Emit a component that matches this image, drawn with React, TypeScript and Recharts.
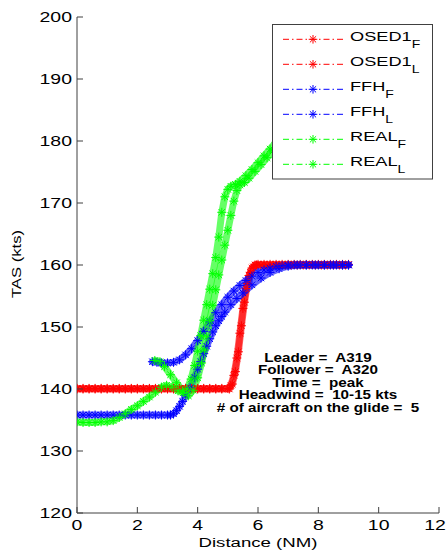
import React from "react";
import { LineChart, Line, XAxis, YAxis } from "recharts";

const X_TICKS = [0, 2, 4, 6, 8, 10, 12];
const Y_TICKS = [120, 130, 140, 150, 160, 170, 180, 190, 200];

const osedF_x = [0, 0.2, 0.4, 0.6, 0.8, 1, 1.2, 1.4, 1.6, 1.8, 2, 2.2, 2.4, 2.6, 2.8, 3, 3.2, 3.4, 3.6, 3.8, 4, 4.2, 4.4, 4.6, 4.8, 5, 5.1, 5.2, 5.3, 5.4, 5.5, 5.6, 5.7, 5.8, 5.9, 6, 6.2, 6.4, 6.6, 6.8, 7, 7.2, 7.4, 7.6, 7.8, 8, 8.2, 8.4, 8.6, 8.8, 9];
const osedF_y = [140.1, 140.1, 140.1, 140.1, 140.1, 140.1, 140.1, 140.1, 140.1, 140.1, 140.1, 140.1, 140.1, 140.1, 140.1, 140.1, 140.1, 140.1, 140.1, 140.1, 140.1, 140.1, 140.1, 140.1, 140.1, 140.1, 140.6, 142.2, 145.0, 149.0, 153.0, 156.2, 158.3, 159.5, 160.0, 160.1, 160.1, 160.1, 160.1, 160.1, 160.1, 160.1, 160.1, 160.1, 160.1, 160.1, 160.1, 160.1, 160.1, 160.1, 160.1];

const osedL_x = [0, 0.2, 0.4, 0.6, 0.8, 1, 1.2, 1.4, 1.6, 1.8, 2, 2.2, 2.4, 2.6, 2.8, 3, 3.2, 3.4, 3.6, 3.8, 4, 4.2, 4.4, 4.6, 4.8, 5.05, 5.15, 5.25, 5.35, 5.45, 5.55, 5.65, 5.75, 5.85, 5.95, 6.1, 6.3, 6.5, 6.7, 6.9, 7.1, 7.3, 7.5, 7.7, 7.9, 8.1, 8.3, 8.5, 8.7, 8.9];
const osedL_y = [140.0, 140.0, 140.0, 140.0, 140.0, 140.0, 140.0, 140.0, 140.0, 140.0, 140.0, 140.0, 140.0, 140.0, 140.0, 140.0, 140.0, 140.0, 140.0, 140.0, 140.0, 140.0, 140.0, 140.0, 140.0, 140.0, 140.8, 142.8, 146.0, 150.2, 154.0, 157.0, 158.8, 159.7, 160.0, 160.0, 160.0, 160.0, 160.0, 160.0, 160.0, 160.0, 160.0, 160.0, 160.0, 160.0, 160.0, 160.0, 160.0, 160.0];

const ffhF_x = [2.5, 2.65, 2.8, 3.0, 3.2, 3.4, 3.6, 3.8, 4.0, 4.2, 4.4, 4.6, 4.8, 5.0, 5.2, 5.4, 5.6, 5.8, 6.0, 6.2, 6.4, 6.6, 6.8, 7.0, 7.2, 7.4, 7.6, 7.8, 8.0, 8.2, 8.4, 8.6, 8.8, 9.0];
const ffhF_y = [144.4, 144.3, 144.2, 144.2, 144.3, 144.7, 145.5, 146.5, 147.8, 149.3, 150.8, 152.3, 153.6, 154.8, 155.8, 156.7, 157.5, 158.2, 158.8, 159.2, 159.5, 159.8, 159.9, 160.0, 160.0, 160.0, 160.0, 160.0, 160.0, 160.0, 160.0, 160.0, 160.0, 160.0];

const ffhL_x = [0, 0.2, 0.4, 0.6, 0.8, 1, 1.2, 1.4, 1.6, 1.8, 2, 2.2, 2.4, 2.6, 2.8, 3, 3.1, 3.2, 3.3, 3.4, 3.5, 3.6, 3.75, 3.9, 4.0, 4.1, 4.2, 4.3, 4.4, 4.5, 4.6, 4.7, 4.8, 4.9, 5.1, 5.3, 5.5, 5.8, 6.1, 6.4, 6.7, 7.0, 7.3, 7.6, 7.9, 8.2, 8.5, 8.8, 9.0];
const ffhL_y = [135.8, 135.8, 135.8, 135.8, 135.8, 135.8, 135.8, 135.8, 135.8, 135.8, 135.8, 135.8, 135.8, 135.8, 135.8, 135.8, 135.8, 136.0, 136.5, 137.2, 138.0, 138.9, 140.2, 141.9, 143.2, 144.4, 145.7, 146.9, 148.1, 149.2, 150.2, 151.0, 151.7, 152.4, 153.6, 154.6, 155.5, 156.8, 157.9, 158.8, 159.4, 159.8, 160.0, 160.0, 160.0, 160.0, 160.0, 160.0, 160.0];

const realF_x = [2.58, 2.75, 2.9, 3.1, 3.3, 3.5, 3.69, 3.85, 4.0, 4.13, 4.22, 4.3, 4.4, 4.5, 4.6, 4.7, 4.8, 4.9, 5.0, 5.1, 5.2, 5.3, 5.4, 5.55, 5.7, 5.9, 6.1, 6.3, 6.5, 6.65];
const realF_y = [144.6, 144.4, 143.6, 142.3, 141.0, 139.7, 138.9, 139.8, 141.8, 144.2, 146.3, 148.4, 151.0, 153.5, 156.0, 158.4, 160.8, 163.2, 165.6, 168.0, 170.3, 172.0, 172.9, 173.3, 174.0, 175.1, 176.2, 177.3, 178.4, 179.2];

const realL_x = [0, 0.2, 0.4, 0.6, 0.8, 1.0, 1.2, 1.4, 1.6, 1.8, 2.0, 2.2, 2.4, 2.6, 2.8, 2.97, 3.15, 3.35, 3.52, 3.65, 3.78, 3.9, 4.0, 4.1, 4.2, 4.3, 4.4, 4.5, 4.6, 4.7, 4.8, 4.9, 5.0, 5.1, 5.25, 5.4, 5.6, 5.8, 6.0, 6.2, 6.4, 6.6];
const realL_y = [134.7, 134.6, 134.6, 134.6, 134.7, 134.7, 134.9, 135.4, 136.0, 136.7, 137.3, 138.0, 138.7, 139.5, 140.3, 140.6, 140.3, 139.7, 139.4, 140.0, 141.6, 143.8, 146.1, 148.6, 151.1, 153.6, 156.1, 158.6, 161.2, 164.5, 168.5, 171.0, 172.2, 172.7, 173.0, 173.5, 174.4, 175.4, 176.5, 177.6, 178.7, 179.8];

const SERIES_NAMES = ["OSED1", "OSED1", "FFH", "FFH", "REAL", "REAL"];
const SERIES_SUBS = ["F", "L", "F", "L", "F", "L"];
const SERIES_COLORS = ["#ff0000", "#ff0000", "#0000ff", "#0000ff", "#00ff00", "#00ff00"];

const ANNOTATION = [
  "Leader =  A319",
  "Follower =  A320",
  "Time =  peak",
  "Headwind =  10-15 kts",
  "# of aircraft on the glide =  5",
];

const toData = (xs: number[], ys: number[]) => xs.map((x, i) => ({ x, y: ys[i] }));

const SERIES_DATA = [
  toData(osedF_x, osedF_y),
  toData(osedL_x, osedL_y),
  toData(ffhF_x, ffhF_y),
  toData(ffhL_x, ffhL_y),
  toData(realF_x, realF_y),
  toData(realL_x, realL_y),
];

const FONT = "'Liberation Sans', Arial, Helvetica, sans-serif";
const AXIS = "#404040";
const SX = 1.39;
const LAST_X = X_TICKS[X_TICKS.length - 1];

const starPath = (cx: number, cy: number, r: number) => {
  const d = r * 0.72;
  return `M${cx - r},${cy}L${cx + r},${cy}M${cx},${cy - r}L${cx},${cy + r}M${cx - d},${cy - d}L${cx + d},${cy + d}M${cx - d},${cy + d}L${cx + d},${cy - d}`;
};

const makeDot = (color: string) => (p: any) => {
  if (p.cx == null || p.cy == null) return <g key={`d-${p.index}`} />;
  return (
    <path
      key={`d-${p.index}`}
      d={starPath(p.cx, p.cy, 4.5)}
      stroke={color}
      strokeWidth={1}
      fill="none"
    />
  );
};

const LeftTick = (p: any) => (
  <g>
    <line x1={p.x} x2={p.x + 6} y1={p.y} y2={p.y} stroke={AXIS} />
    <text
      transform={`translate(${p.x - 5},${p.y}) scale(${SX},1)`}
      textAnchor="end"
      dy="0.36em"
      fontSize={14}
      fontFamily={FONT}
      fill="#000"
    >
      {p.payload.value}
    </text>
  </g>
);

const BottomTick = (p: any) => {
  const last = p.payload.value === LAST_X;
  return (
    <g>
      <line x1={p.x} x2={p.x} y1={p.y} y2={p.y - 6} stroke={AXIS} />
      <text
        transform={`translate(${last ? p.x - 4 : p.x},${p.y + 17}) scale(${SX},1)`}
        textAnchor="middle"
        fontSize={14}
        fontFamily={FONT}
        fill="#000"
      >
        {p.payload.value}
      </text>
    </g>
  );
};

const TopTick = (p: any) => (
  <line x1={p.x} x2={p.x} y1={p.y} y2={p.y + 6} stroke={AXIS} />
);

const RightTick = (p: any) => (
  <line x1={p.x} x2={p.x - 6} y1={p.y} y2={p.y} stroke={AXIS} />
);

const Overlay = () => {
  const rowY = (i: number) => 39.3 + 25 * i;
  return (
    <svg
      width={448}
      height={554}
      style={{ position: "absolute", left: 0, top: 0, pointerEvents: "none" }}
    >
      <rect x={272.5} y={24.5} width={160} height={154.5} fill="#fff" stroke={AXIS} />
      {SERIES_NAMES.map((name, i) => (
        <g key={i}>
          <line
            x1={283}
            x2={343}
            y1={rowY(i)}
            y2={rowY(i)}
            stroke={SERIES_COLORS[i]}
            strokeDasharray="6 3 1.5 3"
          />
          <path d={starPath(313, rowY(i), 4.3)} stroke={SERIES_COLORS[i]} fill="none" />
          <text
            transform={`translate(350,${rowY(i) + 2}) scale(1.4,1)`}
            fontSize={13}
            fontFamily={FONT}
            fill="#000"
          >
            <tspan>{name}</tspan>
            <tspan fontSize={10} dy={7}>
              {SERIES_SUBS[i]}
            </tspan>
          </text>
        </g>
      ))}
      {ANNOTATION.map((t, i) => (
        <text
          key={i}
          transform={`translate(318,${361.7 + 12.5 * i}) scale(1.27,1)`}
          textAnchor="middle"
          fontSize={12}
          fontWeight="bold"
          fontFamily={FONT}
          fill="#000"
          style={{ whiteSpace: "pre" }}
        >
          {t}
        </text>
      ))}
      <text
        transform={`translate(258,547) scale(1.38,1)`}
        textAnchor="middle"
        fontSize={13.5}
        fontFamily={FONT}
        fill="#000"
      >
        Distance (NM)
      </text>
      <text
        transform={`translate(20.7,264) rotate(-90) scale(1.39,1)`}
        textAnchor="middle"
        fontSize={12}
        fontFamily={FONT}
        fill="#000"
      >
        TAS (kts)
      </text>
    </svg>
  );
};

export default function App() {
  return (
    <div
      style={{
        position: "absolute",
        left: 0,
        top: 0,
        width: 448,
        height: 554,
        background: "#fff",
      }}
    >
      <LineChart width={448} height={554} margin={{ top: 17, right: 9, bottom: 0, left: 0 }}>
        <XAxis
          xAxisId="b"
          dataKey="x"
          type="number"
          domain={[0, 12]}
          ticks={X_TICKS}
          interval={0}
          height={41}
          tickLine={false}
          tickSize={0}
          tickMargin={0}
          axisLine={{ stroke: AXIS }}
          tick={<BottomTick />}
          allowDataOverflow
        />
        <XAxis
          xAxisId="t"
          orientation="top"
          dataKey="x"
          type="number"
          domain={[0, 12]}
          ticks={X_TICKS}
          interval={0}
          height={0}
          tickLine={false}
          tickSize={0}
          tickMargin={0}
          axisLine={{ stroke: AXIS }}
          tick={<TopTick />}
          allowDataOverflow
        />
        <YAxis
          yAxisId="l"
          type="number"
          domain={[120, 200]}
          ticks={Y_TICKS}
          interval={0}
          width={77}
          tickLine={false}
          tickSize={0}
          tickMargin={0}
          axisLine={{ stroke: AXIS }}
          tick={<LeftTick />}
          allowDataOverflow
        />
        <YAxis
          yAxisId="r"
          orientation="right"
          type="number"
          domain={[120, 200]}
          ticks={Y_TICKS}
          interval={0}
          width={0}
          tickLine={false}
          tickSize={0}
          tickMargin={0}
          axisLine={{ stroke: AXIS }}
          tick={<RightTick />}
          allowDataOverflow
        />
        {SERIES_DATA.map((data, i) => (
          <Line
            key={i}
            xAxisId="b"
            yAxisId="l"
            data={data}
            dataKey="y"
            type="linear"
            name={`${SERIES_NAMES[i]}_${SERIES_SUBS[i]}`}
            stroke={SERIES_COLORS[i]}
            strokeWidth={7}
            strokeOpacity={0.6}
            strokeLinejoin="round"
            strokeLinecap="round"
            dot={makeDot(SERIES_COLORS[i])}
            activeDot={false}
            isAnimationActive={false}
          />
        ))}
      </LineChart>
      <Overlay />
    </div>
  );
}
